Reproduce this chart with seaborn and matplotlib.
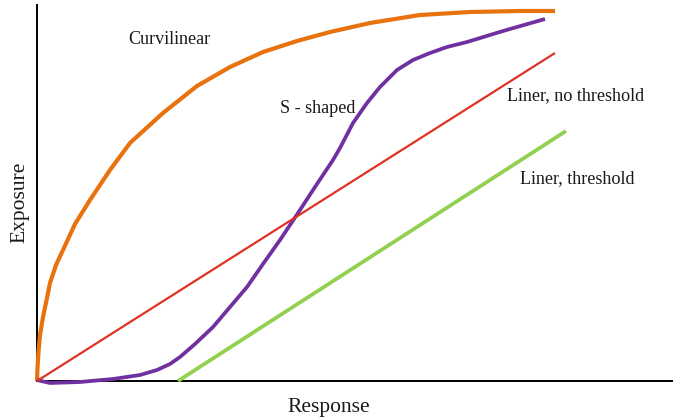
import matplotlib
matplotlib.use("Agg")
import matplotlib.pyplot as plt
import seaborn as sns
import pandas as pd

# Curvilinear
curv_x = [0, 0.5, 1.5, 3, 6, 10, 13, 19, 26, 38, 53, 73, 93, 126, 160, 193, 226, 260, 293, 333, 383, 433, 483, 518]
curv_y = [0, 13, 29, 46, 64, 83, 98, 116, 131, 157, 181, 211, 238, 268, 295, 314, 329, 340, 349, 358, 366, 369, 370, 370]
# S-shaped
s_x = [0, 13, 43, 76, 103, 120, 133, 143, 158, 176, 193, 210, 226, 243, 261, 278, 296, 303, 316, 330, 343, 360, 376, 393, 410, 430, 466, 508]
s_y = [1, -2, -1, 2, 6, 11, 17, 24, 37, 54, 74, 94, 117, 141, 168, 194, 221, 233, 258, 278, 294, 311, 321, 328, 334, 339, 350, 362]
# Linear, no threshold
lin_x = [0, 518]
lin_y = [0, 328]
# Linear, threshold
thr_x = [141, 529]
thr_y = [0, 250]

labels = ["Curvilinear", "S - shaped", "Liner, no threshold", "Liner, threshold"]
label_x = [91, 243, 470, 483]
label_y = [337, 268, 281, 198]

sns.set_style("white")
plt.rcParams['font.family'] = ['Liberation Serif', 'DejaVu Serif']

fig = plt.figure(figsize=(6.74, 4.2), dpi=100)
ax = fig.add_axes([37/674, (420-381)/420, 635/674, 376/420])

series = [
    (curv_x, curv_y, "#E8730E", 3.0),
    (s_x, s_y, "#7030A0", 2.7),
    (lin_x, lin_y, "#E03222", 1.6),
    (thr_x, thr_y, "#92D050", 2.7),
]
for xs, ys, c, lw in series:
    df = pd.DataFrame({"x": xs, "y": ys})
    sns.lineplot(data=df, x="x", y="y", ax=ax, color=c, linewidth=lw,
                 sort=False, estimator=None, solid_capstyle="butt",
                 solid_joinstyle="round", clip_on=False)

for lx, ly, t in zip(label_x, label_y, labels):
    ax.text(lx, ly, t, ha="left", va="baseline", fontsize=13.1, color="#1a1a1a")

ax.set_xlim(0, 635)
ax.set_ylim(0, 376)
ax.set_xticks([])
ax.set_yticks([])
for s in ["top", "right"]:
    ax.spines[s].set_visible(False)
for s in ["left", "bottom"]:
    ax.spines[s].set_color("black")
    ax.spines[s].set_linewidth(1.4)
    ax.spines[s].set_zorder(0.5)
ax.set_xlabel("Response", fontsize=15.5, va="baseline", color="#1a1a1a")
ax.set_ylabel("Exposure", fontsize=15.5, va="center", ha="center", color="#1a1a1a")
ax.xaxis.set_label_coords(292/635, -31/376)
ax.yaxis.set_label_coords(-17/635, 179/376)

fig.savefig("out.png", dpi=100)
